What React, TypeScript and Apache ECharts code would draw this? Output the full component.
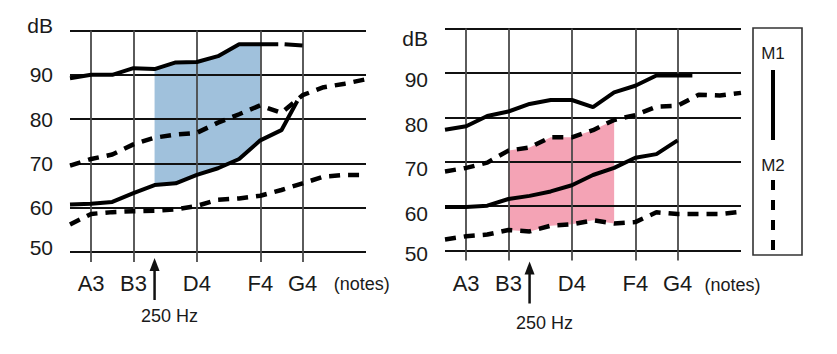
import { useEffect, useRef } from 'react';
import * as echarts from 'echarts';

// ---- axis / category data ----
const NOTE_POS = [1, 3, 6, 9, 11];
const NOTE_NAMES = ['A3', 'B3', 'D4', 'F4', 'G4'];
const NOTES_TAG_POS_L = 13.8;
const NOTES_TAG_POS_R = 13.6;
const DB_MIN = 50;
const DB_MAX = 100;
const FREQ_MARK_POS = 4; // 250 Hz

// ---- left panel ----
const L_M1_HIGH_X = [0, 1, 2, 3, 4, 5, 6, 7, 8, 9, 9.85, 10, 10.15, 11];
const L_M1_HIGH: (number | string)[] = [89.2, 90.0, 90.0, 91.5, 91.3, 92.8, 92.9, 94.2, 96.9, 96.9, 96.9, '-', 96.9, 96.6];
const L_M1_LOW_X = [0, 1, 2, 3, 4, 5, 6, 7, 8, 9, 10, 10.75];
const L_M1_LOW = [60.7, 60.9, 61.3, 63.3, 65.1, 65.5, 67.4, 68.9, 71.0, 75.2, 77.5, 84.1];
const L_M2_HIGH_X = [0, 1, 2, 3, 4, 5, 6, 7, 8, 9, 10, 11, 12, 13, 14];
const L_M2_HIGH = [69.5, 71.0, 72.0, 74.3, 75.8, 76.5, 76.9, 79.2, 81.1, 83.1, 81.4, 85.4, 87.2, 88.0, 89.0];
const L_M2_LOW_X = [0, 1, 2, 3, 4, 5, 6, 7, 8, 9, 10, 11, 12, 13, 13.7];
const L_M2_LOW = [56.2, 58.6, 59.0, 59.2, 59.3, 59.6, 60.4, 61.8, 62.1, 62.7, 64.0, 65.5, 67.0, 67.4, 67.4];
const L_BAND = [4, 9];

// ---- right panel ----
const R_M1_HIGH_X = [0, 1, 2, 3, 4, 5, 6, 7, 8, 9, 10, 11, 11.7];
const R_M1_HIGH = [77.2, 78.0, 80.3, 81.3, 83.0, 83.9, 83.9, 82.3, 85.6, 87.1, 89.4, 89.4, 89.4];
const R_M1_LOW_X = [0, 1, 2, 3, 4, 5, 6, 7, 8, 9, 10, 11];
const R_M1_LOW = [59.8, 59.8, 60.1, 61.6, 62.3, 63.3, 64.7, 67.0, 68.6, 70.9, 71.7, 74.8];
const R_M2_HIGH_X = [0, 1, 2, 3, 4, 5, 6, 7, 8, 9, 10, 11, 12, 13, 14];
const R_M2_HIGH = [67.8, 68.6, 69.8, 72.5, 73.2, 75.5, 75.5, 77.1, 79.4, 80.5, 82.4, 82.6, 85.1, 84.9, 85.5];
const R_M2_LOW_X = [0, 1, 2, 3, 4, 5, 6, 7, 8, 9, 10, 11, 12, 13, 14];
const R_M2_LOW = [52.5, 53.2, 53.6, 54.6, 54.3, 55.6, 55.9, 56.8, 56.1, 56.4, 58.6, 58.2, 58.2, 58.2, 58.7];
const R_BAND = [3, 8];

// ---- layout ----
const GL = { left: 70, top: 30.5, width: 296, height: 221.5 };
const GR = { left: 445, top: 28.5, width: 296, height: 222 };
const X_MAX = 14;
const FONT = "'Liberation Sans', Arial, Helvetica, sans-serif";
const TXT = '#1a1a1a';

const zip = (xs: number[], ys: (number | string)[]) => xs.map((x, i) => [x, ys[i]]);

function bandSeries(idx: number, xs: number[], hi: (number | string)[], lo: number[], band: number[], color: string) {
  return {
    type: 'custom',
    xAxisIndex: idx,
    yAxisIndex: idx,
    z: -1,
    silent: true,
    clip: false,
    data: [[band[0], DB_MIN]],
    renderItem: (_p: any, api: any) => {
      const top: number[][] = [];
      const bot: number[][] = [];
      xs.forEach((x, i) => {
        if (x >= band[0] && x <= band[1] && typeof hi[i] === 'number') {
          top.push(api.coord([x, hi[i]]));
          bot.push(api.coord([x, lo[i]]));
        }
      });
      return {
        type: 'polygon',
        shape: { points: top.concat(bot.reverse()) },
        style: { fill: color },
      };
    },
  };
}

function lineSeries(idx: number, xs: number[], ys: (number | string)[], dashed: boolean) {
  return {
    type: 'line',
    xAxisIndex: idx,
    yAxisIndex: idx,
    data: zip(xs, ys),
    showSymbol: false,
    symbol: 'none',
    silent: true,
    connectNulls: false,
    z: 3,
    lineStyle: {
      color: '#000',
      width: dashed ? 4.5 : 4,
      type: dashed ? [11, 8] : 'solid',
    },
  };
}

function xAxis(idx: number, tagPos: number, margin: number) {
  return {
    type: 'value',
    gridIndex: idx,
    min: 0,
    max: X_MAX,
    interval: 1,
    axisLine: { show: false },
    splitLine: { show: true, lineStyle: { color: '#4a4a4a', width: 1.8 } },
    axisTick: {
      show: true,
      customValues: NOTE_POS,
      length: 10,
      lineStyle: { color: '#4a4a4a', width: 1.8 },
    },
    axisLabel: {
      show: true,
      customValues: [...NOTE_POS, tagPos],
      margin,
      color: TXT,
      fontFamily: FONT,
      fontSize: 22,
      formatter: (v: number) => {
        const k = NOTE_POS.indexOf(v);
        return k >= 0 ? NOTE_NAMES[k] : '{u|(notes)}';
      },
      rich: {
        u: { fontSize: 18, fontFamily: FONT, color: TXT, padding: [3, 0, 0, 0] },
      },
    },
  };
}

function yAxis(idx: number, right: boolean) {
  return {
    type: 'value',
    gridIndex: idx,
    min: DB_MIN,
    max: DB_MAX,
    interval: 10,
    axisLine: { show: false },
    axisTick: { show: false },
    splitLine: { show: true, lineStyle: { color: '#111', width: 2.2 } },
    axisLabel: {
      show: true,
      margin: 17,
      color: TXT,
      fontFamily: FONT,
      fontSize: 21,
      formatter: (v: number) => (v === DB_MAX ? '{db|dB}' : v === DB_MIN ? `{lo|${v}}` : `{n|${v}}`),
      rich: right
        ? {
            db: { fontSize: 21, fontFamily: FONT, color: TXT, padding: [20, 0, 0, 0] },
            n: { fontSize: 21, fontFamily: FONT, color: TXT, padding: [14, 0, 0, 0] },
            lo: { fontSize: 21, fontFamily: FONT, color: TXT, padding: [6, 0, 0, 0] },
          }
        : {
            db: { fontSize: 21, fontFamily: FONT, color: TXT, padding: [0, 0, 10, 0] },
            n: { fontSize: 21, fontFamily: FONT, color: TXT, padding: [0, 0, 0, 0] },
            lo: { fontSize: 21, fontFamily: FONT, color: TXT, padding: [0, 0, 10, 0] },
          },
    },
  };
}

function freqArrow(g: typeof GL, topGap: number, textY: number, textDx: number) {
  const x = g.left + (FREQ_MARK_POS / X_MAX) * g.width;
  const yTip = g.top + g.height + topGap;
  return [
    { type: 'line', shape: { x1: x, y1: yTip + 8, x2: x, y2: yTip + 42 }, style: { stroke: '#111', lineWidth: 2.5 } },
    { type: 'polygon', shape: { points: [[x - 5, yTip + 13], [x, yTip], [x + 5, yTip + 13]] }, style: { fill: '#111' } },
    {
      type: 'text',
      x: x + textDx,
      y: textY,
      style: { text: '250 Hz', fontSize: 18, fontFamily: FONT, fill: TXT, align: 'center', verticalAlign: 'middle' },
    },
  ];
}

export default function App() {
  const ref = useRef<HTMLDivElement>(null);
  useEffect(() => {
    if (!ref.current) return;
    const chart = echarts.init(ref.current, null, { renderer: 'svg' });
    const legendX = 773;
    chart.setOption({
      animation: false,
      backgroundColor: '#fff',
      grid: [
        { left: GL.left, top: GL.top, width: GL.width, height: GL.height, containLabel: false },
        { left: GR.left, top: GR.top, width: GR.width, height: GR.height, containLabel: false },
      ],
      xAxis: [xAxis(0, NOTES_TAG_POS_L, 20), xAxis(1, NOTES_TAG_POS_R, 22)],
      yAxis: [yAxis(0, false), yAxis(1, true)],
      series: [
        bandSeries(0, L_M1_HIGH_X, L_M1_HIGH, L_M1_LOW, L_BAND, '#a0c1dc'),
        lineSeries(0, L_M1_HIGH_X, L_M1_HIGH, false),
        lineSeries(0, L_M1_LOW_X, L_M1_LOW, false),
        lineSeries(0, L_M2_HIGH_X, L_M2_HIGH, true),
        lineSeries(0, L_M2_LOW_X, L_M2_LOW, true),
        bandSeries(1, R_M2_HIGH_X, R_M2_HIGH, R_M2_LOW, R_BAND, '#f4a3b5'),
        lineSeries(1, R_M1_HIGH_X, R_M1_HIGH, false),
        lineSeries(1, R_M1_LOW_X, R_M1_LOW, false),
        lineSeries(1, R_M2_HIGH_X, R_M2_HIGH, true),
        lineSeries(1, R_M2_LOW_X, R_M2_LOW, true),
      ],
      graphic: [
        ...freqArrow(GL, 6, 316, 15),
        ...freqArrow(GR, 11, 323, 15),
        { type: 'rect', shape: { x: 753, y: 28, width: 49, height: 227 }, style: { fill: 'none', stroke: '#333', lineWidth: 1.6 } },
        { type: 'text', x: legendX, y: 53, style: { text: 'M1', fontSize: 17, fontFamily: FONT, fill: TXT, align: 'center', verticalAlign: 'middle' } },
        { type: 'line', shape: { x1: legendX, y1: 70, x2: legendX, y2: 140 }, style: { stroke: '#000', lineWidth: 4 } },
        { type: 'text', x: legendX, y: 165, style: { text: 'M2', fontSize: 17, fontFamily: FONT, fill: TXT, align: 'center', verticalAlign: 'middle' } },
        { type: 'line', shape: { x1: legendX, y1: 180, x2: legendX, y2: 250 }, style: { stroke: '#000', lineWidth: 4, lineDash: [10, 10] } },
      ],
    });
    return () => chart.dispose();
  }, []);
  return <div ref={ref} style={{ position: 'absolute', left: 0, top: 0, width: 837, height: 354 }} />;
}
